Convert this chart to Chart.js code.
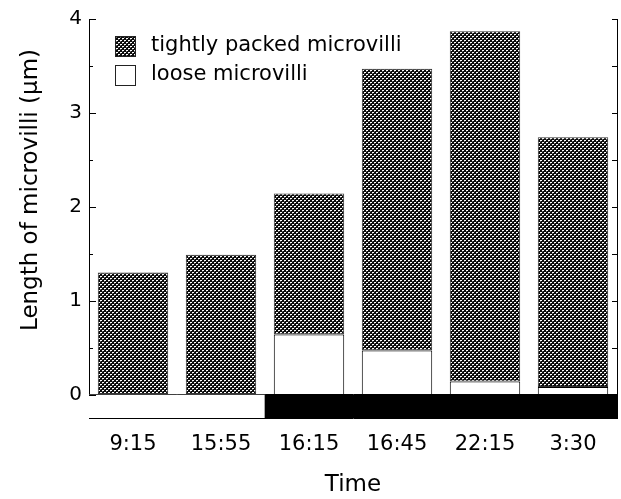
<!DOCTYPE html>
<html>
<head>
<meta charset="utf-8">
<title>Length of microvilli</title>
<script src="https://cdn.jsdelivr.net/npm/chart.js@4"></script>
<style>
  body { margin: 0; background: #fff; }
  #wrap { width: 621px; height: 499px; }
</style>
</head>
<body>
<div id="wrap"><canvas id="microvilliChart" width="621" height="499"></canvas></div>
<script>
const timeLabels = ['9:15', '15:55', '16:15', '16:45', '22:15', '3:30'];
const tightValues = [1.30, 1.49, 1.50, 3.00, 3.73, 2.66];
const looseValues = [0, 0, 0.64, 0.47, 0.14, 0.08];
// light / dark phase strip under the zero line
const lightPhase = ['light', 'light', 'dark', 'dark', 'dark', 'dark'];
const phaseBand = [-0.25, -0.25, -0.25, -0.25, -0.25, -0.25];
const yTickValues = [0, 0.5, 1, 1.5, 2, 2.5, 3, 3.5, 4];

Chart.defaults.font.family = "'DejaVu Sans', sans-serif";
Chart.defaults.color = '#000';

// dotted halftone fill used for the tightly packed bars
function makeDots() {
  const tile = document.createElement('canvas');
  tile.width = 4;
  tile.height = 4;
  const t = tile.getContext('2d');
  t.fillStyle = '#0a0a0a';
  t.fillRect(0, 0, 4, 4);
  t.fillStyle = '#fff';
  t.fillRect(0, 0, 2, 1);
  t.fillRect(2, 2, 2, 1);
  t.fillStyle = '#666';
  t.fillRect(0, 1, 1, 1);
  t.fillRect(2, 3, 1, 1);
  return t.createPattern(tile, 'repeat');
}
const dots = makeDots();

const frameExtras = {
  id: 'frameExtras',
  afterDraw(chart) {
    const { ctx, chartArea: area, scales } = chart;
    const y = scales.y;
    ctx.save();

    // inward ticks on both vertical axes
    ctx.strokeStyle = '#000';
    ctx.lineWidth = 1;
    yTickValues.forEach(v => {
      const py = Math.round(y.getPixelForValue(v)) + 0.5;
      const major = Number.isInteger(v);
      ctx.beginPath();
      ctx.moveTo(area.left, py);
      ctx.lineTo(area.left + (major ? 7 : 4), py);
      ctx.moveTo(area.right, py);
      ctx.lineTo(area.right - 5, py);
      ctx.stroke();
    });

    // legend inside the plot, top left
    const items = [chart.data.datasets[1], chart.data.datasets[0]];
    ctx.font = "21px 'DejaVu Sans'";
    ctx.textBaseline = 'middle';
    ctx.textAlign = 'left';
    items.forEach((ds, i) => {
      const bx = area.left + 26;
      const by = area.top + 17 + i * 29;
      ctx.fillStyle = ds.backgroundColor;
      ctx.fillRect(bx, by, 20, 20);
      ctx.strokeStyle = '#222';
      ctx.strokeRect(bx + 0.5, by + 0.5, 20, 20);
      ctx.fillStyle = '#000';
      ctx.fillText(ds.label, bx + 36, by + 10);
    });

    // y axis title
    ctx.translate(31, 190);
    ctx.rotate(-Math.PI / 2);
    ctx.font = "23px 'DejaVu Sans'";
    ctx.textAlign = 'center';
    ctx.fillText('Length of microvilli (µm)', 0, 0);
    ctx.restore();
  }
};

new Chart(document.getElementById('microvilliChart'), {
  type: 'bar',
  data: {
    labels: timeLabels,
    datasets: [
      {
        label: 'loose microvilli',
        data: looseValues,
        backgroundColor: '#fff',
        borderColor: '#000',
        borderWidth: 1,
        barPercentage: 0.8,
        categoryPercentage: 1
      },
      {
        label: 'tightly packed microvilli',
        data: tightValues,
        backgroundColor: dots,
        borderColor: '#333',
        borderWidth: 1,
        borderSkipped: false,
        barPercentage: 0.8,
        categoryPercentage: 1
      },
      {
        label: 'phase',
        data: phaseBand,
        backgroundColor: lightPhase.map(p => p === 'light' ? '#fff' : '#000'),
        borderWidth: 0,
        barPercentage: 1,
        categoryPercentage: 1
      }
    ]
  },
  options: {
    responsive: false,
    animation: false,
    layout: { padding: { top: 15, left: 0, right: 0, bottom: 0 } },
    plugins: {
      legend: { display: false },
      tooltip: { enabled: false }
    },
    scales: {
      x: {
        stacked: true,
        grid: { display: false },
        border: { display: true, color: '#000', width: 1 },
        ticks: { font: { size: 21 }, padding: 6, color: '#000' },
        title: { display: true, text: 'Time', font: { size: 23 }, padding: { top: 0, bottom: 0 }, color: '#000' },
        afterFit: scale => { scale.height = 81; }
      },
      y: {
        stacked: true,
        position: 'left',
        min: -0.25,
        max: 4,
        afterBuildTicks: scale => { scale.ticks = yTickValues.map(v => ({ value: v })); },
        ticks: {
          font: { size: 20 },
          padding: 7,
          color: '#000',
          autoSkip: false,
          callback: value => Number.isInteger(value) ? String(value) : ''
        },
        grid: {
          drawTicks: false,
          color: ctx => ctx.tick && ctx.tick.value === 0 ? '#000' : 'rgba(0,0,0,0)'
        },
        border: { display: true, color: '#000', width: 1 },
        afterFit: scale => { scale.width = 89; }
      },
      y2: {
        position: 'right',
        min: -0.25,
        max: 4,
        ticks: { display: false },
        grid: { display: false },
        border: { display: true, color: '#000', width: 1 },
        afterFit: scale => { scale.width = 4; }
      }
    }
  },
  plugins: [frameExtras]
});
</script>
</body>
</html>
